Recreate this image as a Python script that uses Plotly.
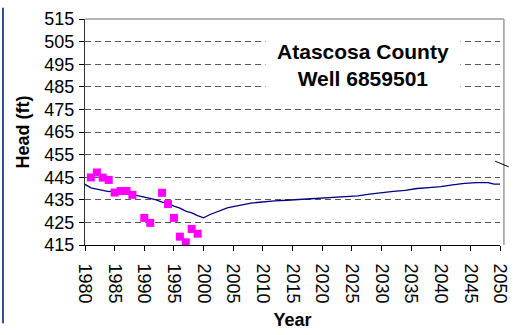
import plotly.graph_objects as go

# Simulated head (ft) through time
sim_years = [1979.4, 1980, 1981, 1982, 1983, 1984, 1985, 1986, 1987, 1988, 1989,
             1990, 1991, 1992, 1993, 1994, 1995, 1996, 1997, 1998, 1999, 2000,
             2001, 2002, 2003, 2004, 2005, 2006, 2007, 2008, 2009, 2010, 2012,
             2014, 2016, 2018, 2020, 2022, 2024, 2026, 2028, 2030, 2032, 2034,
             2036, 2038, 2040, 2042, 2044, 2046, 2048, 2049, 2050]
sim_head = [443.0, 441.8, 440.3, 439.6, 439.2, 438.6, 439.0, 438.5, 438.0, 437.5, 436.9,
            436.2, 435.6, 435.0, 434.0, 433.4, 432.2, 431.3, 430.0, 429.2, 428.0, 427.0,
            428.4, 429.5, 430.5, 431.4, 432.0, 432.6, 433.0, 433.5, 433.8, 434.1, 434.5,
            434.8, 435.1, 435.5, 435.9, 436.1, 436.5, 436.7, 437.5, 438.2, 438.7, 439.2,
            440.0, 440.4, 440.8, 441.6, 442.3, 442.6, 442.6, 441.9, 441.9]

# Measured water levels
obs_years = [1981, 1982, 1983, 1984, 1985, 1986, 1987, 1988, 1990, 1991,
             1993, 1994, 1995, 1996, 1997, 1998, 1999]
obs_head = [444.9, 447.1, 444.8, 443.8, 438.2, 438.9, 438.9, 437.2, 427.0, 424.8,
            438.1, 433.1, 427.0, 418.7, 416.2, 422.1, 420.0]

x_ticks = list(range(1980, 2051, 5))
y_ticks = list(range(415, 516, 10))

FONT = "Arial, Liberation Sans, sans-serif"

fig = go.Figure()
fig.add_trace(go.Scatter(x=sim_years, y=sim_head, mode="lines",
                         line=dict(color="#000080", width=1.3), showlegend=False))
fig.add_trace(go.Scatter(x=obs_years, y=obs_head, mode="markers",
                         marker=dict(symbol="square", size=8, color="#FF00FF"),
                         showlegend=False))

W, H = 519, 335
L, R, T, B = 85, 9, 12, 83
pw, ph = W - L - R, H - T - B

def px_x(p):
    return (p - L) / pw

def px_y(p):
    return (H - B - p) / ph

fig.update_layout(
    width=W, height=H,
    margin=dict(l=L, r=R, t=T, b=B),
    paper_bgcolor="white", plot_bgcolor="white",
    font=dict(family=FONT, size=18, color="black"),
    xaxis=dict(range=[1980, 2050], tickvals=x_ticks, ticktext=[str(v) for v in x_ticks],
               tickangle=90, ticks="outside", ticklen=5, tickcolor="black",
               ticklabelstandoff=9, ticklabeloverflow="allow",
               showline=True, linecolor="black", linewidth=1,
               showgrid=False, zeroline=False,
               title=dict(text="<b>Year</b>", font=dict(size=18), standoff=10)),
    yaxis=dict(range=[415, 515], tickvals=y_ticks, ticks="outside", ticklen=5,
               tickcolor="black", showline=True, linecolor="#333333", linewidth=1,
               showgrid=True, gridcolor="#555555", griddash="6px,4px", gridwidth=1,
               zeroline=False, ticklabelstandoff=1,
               title=dict(text="<b>Head (ft)</b>", font=dict(size=18), standoff=10)),
    shapes=[
        # plot area frame (top and right)
        dict(type="line", xref="paper", yref="paper", x0=0, x1=px_x(514), y0=1, y1=1,
             line=dict(color="#9a9a9a", width=1.5)),
        dict(type="line", xref="paper", yref="paper", x0=px_x(514), x1=px_x(514),
             y0=0, y1=1, line=dict(color="#9a9a9a", width=1.5)),
        # left border of the chart
        dict(type="line", xref="paper", yref="paper", x0=px_x(1), x1=px_x(1),
             y0=px_y(H), y1=px_y(0), line=dict(color="#2F4F8F", width=2)),
        # leader line
        dict(type="line", xref="paper", yref="paper", x0=px_x(505), x1=px_x(519),
             y0=px_y(163), y1=px_y(169), line=dict(color="black", width=1)),
    ],
    annotations=[
        dict(text="<b>Atascosa County</b><br><b>Well 6859501</b>",
             xref="paper", yref="paper", x=px_x(370), y=px_y(61),
             xanchor="center", yanchor="middle", showarrow=False,
             font=dict(size=21, family=FONT, color="black"),
             bgcolor="white", width=194, height=66, borderpad=0, align="center"),
    ],
)

fig.write_html("out.html")
